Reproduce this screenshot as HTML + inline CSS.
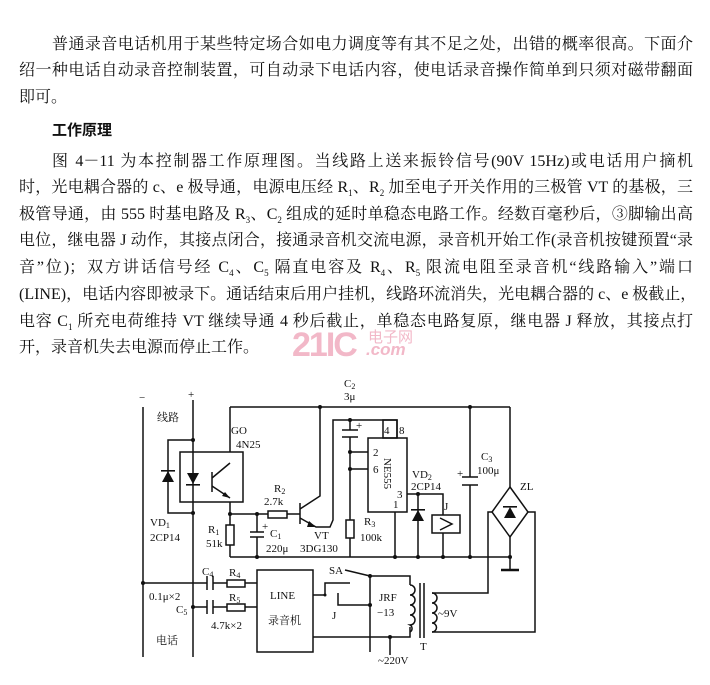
<!DOCTYPE html>
<html><head><meta charset="utf-8"><style>
body{margin:0;width:710px;height:685px;background:#fff;position:relative;overflow:hidden;font-family:"Liberation Serif","Noto Serif CJK SC",serif;color:#111}
.l{position:absolute;font-size:16px;line-height:20px;white-space:nowrap;text-align:justify;text-align-last:justify;overflow:hidden}
svg{position:absolute;left:0;top:0}
svg text{font-family:"Liberation Serif","Noto Serif CJK SC",serif;font-size:11px;fill:#111}
</style></head><body>
<div class="l" style="left:52px;top:35px;width:641px">普通录音电话机用于某些特定场合如电力调度等有其不足之处，出错的概率很高。下面介</div>
<div class="l" style="left:19px;top:61px;width:674px">绍一种电话自动录音控制装置，可自动录下电话内容，使电话录音操作简单到只须对磁带翻面</div>
<div class="l" style="left:19px;top:88px">即可。</div>
<div class="l" style="left:52px;top:120px;font-weight:bold;font-family:'Noto Sans CJK SC',sans-serif;font-size:15px">工作原理</div>
<div class="l" style="left:52px;top:152px;width:641px">图 4－11 为本控制器工作原理图。当线路上送来振铃信号(90V 15Hz)或电话用户摘机</div>
<div class="l" style="left:19px;top:178px;width:674px">时，光电耦合器的 c、e 极导通，电源电压经 R<sub style="font-size:9px">1</sub>、R<sub style="font-size:9px">2</sub> 加至电子开关作用的三极管 VT 的基极，三</div>
<div class="l" style="left:19px;top:205px;width:674px">极管导通，由 555 时基电路及 R<sub style="font-size:9px">3</sub>、C<sub style="font-size:9px">2</sub> 组成的延时单稳态电路工作。经数百毫秒后，③脚输出高</div>
<div class="l" style="left:19px;top:231px;width:674px">电位，继电器 J 动作，其接点闭合，接通录音机交流电源，录音机开始工作(录音机按键预置“录</div>
<div class="l" style="left:19px;top:258px;width:674px">音”位)；双方讲话信号经 C<sub style="font-size:9px">4</sub>、C<sub style="font-size:9px">5</sub> 隔直电容及 R<sub style="font-size:9px">4</sub>、R<sub style="font-size:9px">5</sub> 限流电阻至录音机“线路输入”端口</div>
<div class="l" style="left:19px;top:285px;width:674px">(LINE)，电话内容即被录下。通话结束后用户挂机，线路环流消失，光电耦合器的 c、e 极截止，</div>
<div class="l" style="left:19px;top:312px;width:674px">电容 C<sub style="font-size:9px">1</sub> 所充电荷维持 VT 继续导通 4 秒后截止，单稳态电路复原，继电器 J 释放，其接点打</div>
<div class="l" style="left:19px;top:338px">开，录音机失去电源而停止工作。</div>
<div style="position:absolute;left:292px;top:326px;font:bold 34px 'Liberation Sans',sans-serif;color:#f2b8c8;letter-spacing:-2px">21IC</div>
<div style="position:absolute;left:368px;top:326px;font:15px 'Noto Sans CJK SC',sans-serif;color:#f2b8c8">电子网</div>
<div style="position:absolute;left:366px;top:340px;font:italic bold 17px 'Liberation Sans',sans-serif;color:#f2b8c8">.com</div>

<svg width="710" height="685" viewBox="0 0 710 685">
<g stroke="#111" stroke-width="1.5" fill="none">
<line x1="143" y1="407" x2="143" y2="657"/>
<line x1="193" y1="400" x2="193" y2="657"/>
<polyline points="193,440 168,440 168,513 193,513"/>
<rect x="180" y="452" width="63" height="50"/>
<line x1="212" y1="472" x2="212" y2="492"/>
<line x1="212" y1="478" x2="230" y2="463"/>
<line x1="212" y1="486" x2="230" y2="498"/>
<polyline points="230,407 230,452"/>
<polyline points="230,502 230,557"/>
<line x1="230" y1="407" x2="510" y2="407"/>
<line x1="230" y1="557" x2="510" y2="557"/>
<rect x="226" y="525" width="8" height="20" fill="#fff"/>
<line x1="230" y1="514" x2="300" y2="514"/>
<rect x="268" y="511" width="19" height="7" fill="#fff"/>
<line x1="257" y1="514" x2="257" y2="532"/>
<line x1="257" y1="537" x2="257" y2="557"/>
<line x1="250" y1="532" x2="264" y2="532"/>
<line x1="250" y1="537" x2="264" y2="537"/>
<line x1="300" y1="503" x2="300" y2="524"/>
<polyline points="300,509 320,496 320,407"/>
<polyline points="300,518 316,527 330,527 333,520 333,420 397,420 397,438"/>
<rect x="383" y="420" width="14" height="18"/>
<rect x="368" y="438" width="39" height="74"/>
<line x1="350" y1="420" x2="350" y2="430"/>
<line x1="342" y1="430" x2="358" y2="430"/>
<line x1="342" y1="437" x2="358" y2="437"/>
<line x1="350" y1="437" x2="350" y2="557"/>
<line x1="350" y1="452" x2="368" y2="452"/>
<line x1="350" y1="469" x2="368" y2="469"/>
<rect x="346" y="520" width="8" height="18" fill="#fff"/>
<line x1="395" y1="512" x2="395" y2="557"/>
<polyline points="407,494 443,494 443,515"/>
<line x1="418" y1="494" x2="418" y2="557"/>
<rect x="432" y="515" width="28" height="18"/>
<polyline points="440,518 452,524 440,530"/>
<line x1="443" y1="533" x2="443" y2="557"/>
<line x1="470" y1="407" x2="470" y2="477"/>
<line x1="462" y1="477" x2="478" y2="477"/>
<line x1="462" y1="485" x2="478" y2="485"/>
<line x1="470" y1="485" x2="470" y2="557"/>
<line x1="510" y1="407" x2="510" y2="487"/>
<polygon points="510,487 528,512 510,537 492,512"/>
<line x1="510" y1="537" x2="510" y2="570"/>
<line x1="501" y1="570" x2="519" y2="570" stroke-width="2.5"/>
<polyline points="492,512 488,512 488,593 432,593"/>
<polyline points="528,512 535,512 535,632 432,632"/>
<path d="M432,593 a5,5 0 0 1 0,10 a5,5 0 0 1 0,10 a5,5 0 0 1 0,10 a4.5,4.5 0 0 1 0,9"/>
<line x1="420" y1="583" x2="420" y2="638"/>
<line x1="424" y1="583" x2="424" y2="638"/>
<path d="M410,585 a5,5 0 0 1 0,10 a5,5 0 0 1 0,10 a5,5 0 0 1 0,10 a5,5 0 0 1 0,10 a4,4 0 0 1 0,7"/>
<line x1="143" y1="583" x2="207" y2="583"/>
<line x1="207" y1="576" x2="207" y2="590"/><line x1="213" y1="576" x2="213" y2="590"/>
<line x1="213" y1="583" x2="257" y2="583"/>
<rect x="227" y="580" width="18" height="7" fill="#fff"/>
<line x1="193" y1="607" x2="207" y2="607"/>
<line x1="207" y1="600" x2="207" y2="614"/><line x1="213" y1="600" x2="213" y2="614"/>
<line x1="213" y1="607" x2="257" y2="607"/>
<rect x="227" y="604" width="18" height="7" fill="#fff"/>
<rect x="257" y="570" width="56" height="82"/>
<polyline points="313,595 325,595 325,583 350,583"/>
<line x1="345" y1="570" x2="370" y2="576"/>
<polyline points="370,576 410,576 410,585"/>
<line x1="370" y1="576" x2="370" y2="652"/>
<polyline points="338,593 338,605 370,605"/>
<polyline points="313,637 410,637 410,627"/>
<line x1="390" y1="637" x2="390" y2="655"/>
</g>
<g fill="#111">
<polygon points="162,482 174,482 168,471"/><rect x="161" y="470" width="14" height="1.6"/>
<polygon points="187,473 199,473 193,484"/><rect x="186" y="484" width="14" height="1.6"/>
<polygon points="412,521 424,521 418,510"/><rect x="411" y="509" width="14" height="1.6"/>
<polygon points="504,518 516,518 510,507"/><rect x="503" y="506" width="14" height="1.6"/>
<polygon points="316,527 309,521 307,527"/>
<polygon points="230,498 222,496 225,492"/>
<circle cx="193" cy="440" r="2"/><circle cx="193" cy="513" r="2"/><circle cx="230" cy="514" r="2"/>
<circle cx="257" cy="514" r="2"/><circle cx="257" cy="557" r="2"/><circle cx="320" cy="407" r="2"/>
<circle cx="470" cy="407" r="2"/><circle cx="350" cy="420" r="2"/><circle cx="350" cy="452" r="2"/>
<circle cx="350" cy="469" r="2"/><circle cx="395" cy="557" r="2"/><circle cx="418" cy="494" r="2"/>
<circle cx="418" cy="557" r="2"/><circle cx="443" cy="557" r="2"/><circle cx="470" cy="557" r="2"/>
<circle cx="510" cy="557" r="2"/><circle cx="143" cy="583" r="2"/><circle cx="193" cy="607" r="2"/>
<circle cx="370" cy="576" r="2"/><circle cx="370" cy="605" r="2"/><circle cx="390" cy="637" r="2"/>
<circle cx="325" cy="595" r="1.5"/>
</g>
<text x="139" y="401" font-size="14">−</text><text x="188" y="398" font-size="12">+</text>
<text x="157" y="421">线路</text>
<text x="231" y="434">GO</text><text x="236" y="448">4N25</text>
<text x="150" y="526">VD<tspan font-size="8" dy="2">1</tspan></text><text x="150" y="541" dy="0">2CP14</text>
<text x="208" y="533">R<tspan font-size="8" dy="2">1</tspan></text><text x="206" y="547">51k</text>
<text x="274" y="492">R<tspan font-size="8" dy="2">2</tspan></text><text x="264" y="505">2.7k</text>
<text x="262" y="530" font-size="10">+</text>
<text x="270" y="537">C<tspan font-size="8" dy="2">1</tspan></text><text x="266" y="552">220μ</text>
<text x="314" y="539">VT</text><text x="300" y="552">3DG130</text>
<text x="344" y="387">C<tspan font-size="8" dy="2">2</tspan></text><text x="344" y="400">3μ</text>
<text x="356" y="429" font-size="10">+</text>
<text x="384" y="434" font-size="10">4</text><text x="399" y="434" font-size="10">8</text>
<text x="373" y="456" font-size="10">2</text><text x="373" y="473" font-size="10">6</text>
<text x="397" y="498" font-size="10">3</text><text x="393" y="508" font-size="10">1</text>
<text x="0" y="0" transform="translate(384,458) rotate(90)" font-size="11">NE555</text>
<text x="364" y="525">R<tspan font-size="8" dy="2">3</tspan></text><text x="360" y="541">100k</text>
<text x="412" y="478">VD<tspan font-size="8" dy="2">2</tspan></text><text x="411" y="490">2CP14</text>
<text x="444" y="510">J</text>
<text x="457" y="477" font-size="10">+</text>
<text x="481" y="460">C<tspan font-size="8" dy="2">3</tspan></text><text x="477" y="474">100μ</text>
<text x="520" y="490">ZL</text>
<text x="202" y="575">C<tspan font-size="8" dy="2">4</tspan></text><text x="229" y="576">R<tspan font-size="8" dy="2">4</tspan></text>
<text x="149" y="600">0.1μ×2</text>
<text x="176" y="613">C<tspan font-size="8" dy="2">5</tspan></text><text x="229" y="601">R<tspan font-size="8" dy="2">5</tspan></text>
<text x="211" y="629">4.7k×2</text>
<text x="156" y="644">电话</text>
<text x="270" y="599">LINE</text><text x="268" y="624">录音机</text>
<text x="329" y="574">SA</text>
<text x="332" y="619">J</text>
<text x="379" y="601">JRF</text><text x="377" y="616">−13</text>
<text x="438" y="617">~9V</text>
<text x="420" y="650">T</text>
<text x="378" y="664">~220V</text>
</svg>
</body></html>
